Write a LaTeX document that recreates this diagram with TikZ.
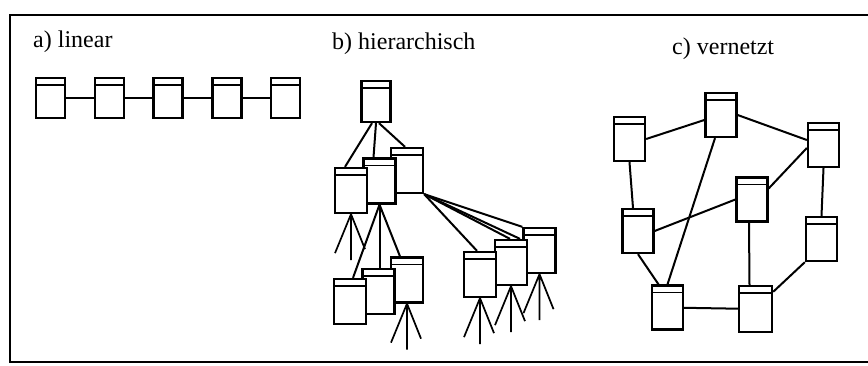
\documentclass[tikz,border=0pt]{standalone}
\usepackage{xcolor}
\usepackage{fontspec}
\setmainfont{Liberation Serif}
\usepackage{tikz}
\usetikzlibrary{shapes, arrows, positioning}

\begin{document}
\begin{tikzpicture}[x=1pt, y=-1pt, node distance=27.5pt,
    db/.style={draw, rectangle, fill=white, line width=2.3pt, inner sep=0pt,
        minimum width=31pt, minimum height=44pt,
        path picture={\draw [line width=1.8pt] ([yshift=-7pt]path picture bounding box.north west) -- ([yshift=-7pt]path picture bounding box.north east);}},
    lin/.style={db, minimum width=29pt, minimum height=40pt},
    hier/.style={db, minimum width=32pt, minimum height=45pt},
    link/.style={line width=2pt},
    title/.style={anchor=base west, inner sep=0pt, font=\fontsize{24}{28}\selectfont}]
    \useasboundingbox (0,0) rectangle (868,365);

    % frame
    \draw [line width=2.6pt] (868,15) -- (10,15) -- (10,362) -- (868,362);

    \node [title] (tlin) at (33,47) {a) linear};
    \node [title] (thier) at (332,49) {b) hierarchisch};
    \node [title] (tnet) at (672,54) {c) vernetzt};

    % a) linear
    \node [lin] (l1) at (50.5,98) {};
    \node [lin, right=of l1] (l2) {};
    \node [lin, right=of l2] (l3) {};
    \node [lin, right=of l3] (l4) {};
    \node [lin, right=of l4] (l5) {};

    \draw [link] (l1) -- (l2);
    \draw [link] (l2) -- (l3);
    \draw [link] (l3) -- (l4);
    \draw [link] (l4) -- (l5);

    % b) hierarchisch
    \node [hier, minimum width=29pt, minimum height=41pt] (root) at (376,101.5) {};
    \node [hier] (hR) at (407,170.5) {};
    \node [hier] (hM) at (379.5,181) {};
    \node [hier] (hL) at (351,190.5) {};
    \node [hier] (hBR) at (407,280) {};
    \node [hier] (hBM) at (378.5,291.5) {};
    \node [hier] (hBL) at (350,301.5) {};
    \node [hier] (hRR) at (539.5,250.5) {};
    \node [hier] (hRM) at (511,262.5) {};
    \node [hier] (hRL) at (480,274.5) {};

    \draw [link] ([xshift=-4pt]root.south) -- ([xshift=-6pt]hL.north);
    \draw [link] (root.south) -- ([xshift=-6pt]hM.north);
    \draw [link] ([xshift=3pt]root.south) -- ([xshift=-2pt]hR.north);

    \draw [link] (hM.south) -- ([xshift=3pt]hBL.north);
    \draw [link] (hM.south) -- ([xshift=1pt]hBM.north);
    \draw [link] (hM.south) -- ([xshift=-7pt]hBR.north);

    \draw [link] (hR.south east) -- ([xshift=-3pt]hRL.north);
    \draw [link] (hR.south east) -- ([xshift=-1pt]hRM.north);
    \draw [link] (hR.south east) -- ([xshift=9pt]hRM.north);
    \draw [link] (hR.south east) -- (hRR.north west);

    \foreach \n in {hL, hBR, hRL, hRM, hRR}
        \draw [link, line width=1.7pt] (\n.south) -- ++(-16,39) (\n.south) -- ++(0,46) (\n.south) -- ++(14,35);

    % c) vernetzt
    \node [db] (n1) at (629.5,139) {};
    \node [db] (n2) at (721,115) {};
    \node [db] (n3) at (823.5,145) {};
    \node [db] (n4) at (752,199.5) {};
    \node [db] (n5) at (638,231) {};
    \node [db] (n6) at (821.5,239) {};
    \node [db] (n7) at (667.5,307.5) {};
    \node [db, minimum width=33pt, minimum height=46pt] (n8) at (755.5,309) {};

    \draw [link] (n1.east) -- ([yshift=-5pt]n2.west);
    \draw [link] (n2.east) -- ([yshift=5pt]n3.west);
    \draw [link] (n1.south) -- ([xshift=-5pt]n5.north);
    \draw [link] ([xshift=-6pt]n2.south) -- (n7.north);
    \draw [link] (n4.west) -- (n5.east);
    \draw [link] ([yshift=11pt]n4.east) -- ([yshift=-3pt]n3.west);
    \draw [link] (n3.south) -- (n6.north);
    \draw [link] ([xshift=-3pt]n4.south) -- ([xshift=-6pt]n8.north);
    \draw [link] (n5.south) -- ([xshift=-9pt]n7.north);
    \draw [link] (n7) -- (n8);
    \draw [link] (n6.south west) -- ([yshift=-7pt]n8.north east);
\end{tikzpicture}
\end{document}
